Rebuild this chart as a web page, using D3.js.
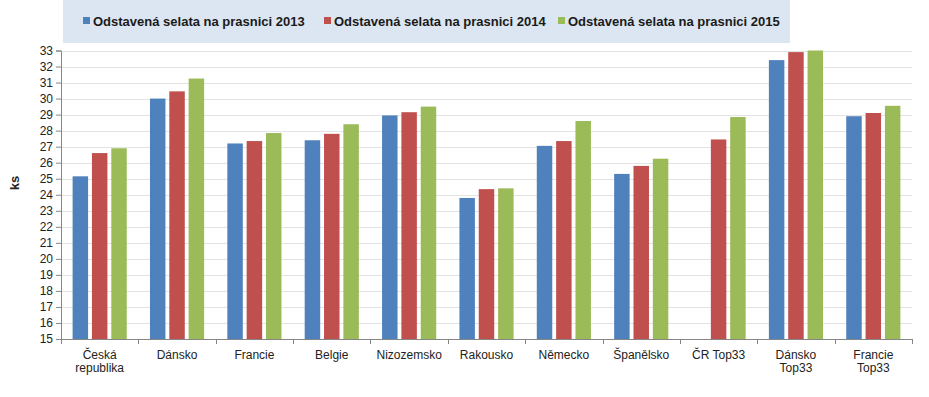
<!DOCTYPE html>
<html>
<head>
<meta charset="utf-8">
<script src="https://cdn.jsdelivr.net/npm/d3@7"></script>
<style>
  body { margin: 0; background: #fff; }
  svg { display: block; font-family: Arial, "Liberation Sans", sans-serif; }
</style>
</head>
<body>
<svg width="929" height="397"></svg>
<script>
const categories = [
  ['Česká', 'republika'], ['Dánsko'], ['Francie'], ['Belgie'], ['Nizozemsko'],
  ['Rakousko'], ['Německo'], ['Španělsko'], ['ČR Top33'], ['Dánsko', 'Top33'], ['Francie', 'Top33']
];
const seriesNames = ['Odstavená selata na prasnici 2013', 'Odstavená selata na prasnici 2014', 'Odstavená selata na prasnici 2015'];
const values2013 = [25.15, 30.0, 27.2, 27.4, 28.95, 23.8, 27.05, 25.3, null, 32.4, 28.9];
const values2014 = [26.6, 30.45, 27.35, 27.8, 29.15, 24.35, 27.35, 25.8, 27.45, 32.9, 29.1];
const values2015 = [26.9, 31.25, 27.85, 28.4, 29.5, 24.4, 28.6, 26.25, 28.85, 33.0, 29.55];
const yTicks = d3.range(15, 34);
const colors = ['#4f81bd', '#c0504d', '#9bbb59'];

const svg = d3.select('svg');
const plotL = 61, plotR = 912, plotT = 50.5, plotB = 339;

const x = d3.scaleBand().domain(d3.range(categories.length)).range([plotL, plotR]).padding(0);
const xs = d3.scaleBand().domain([0, 1, 2]).range([0, x.bandwidth()]).paddingInner(0.2).paddingOuter(0.6);
const y = d3.scaleLinear().domain([15, 33]).range([plotB, plotT]);

// legend box
svg.append('rect').attr('x', 63).attr('y', 0).attr('width', 727).attr('height', 43).attr('fill', '#dce6f2');
const legendX = [83, 324, 558];
seriesNames.forEach((name, i) => {
  const g = svg.append('g').attr('transform', `translate(${legendX[i]},0)`);
  g.append('rect').attr('x', 0).attr('y', 17).attr('width', 7).attr('height', 7).attr('fill', colors[i]);
  g.append('text').attr('x', 10).attr('y', 25.5).attr('font-size', 13).attr('font-weight', 'bold')
    .attr('fill', '#1a1a1a').text(name);
});

// grid
svg.append('g').selectAll('line').data(yTicks).enter().append('line')
  .attr('x1', plotL).attr('x2', plotR).attr('y1', d => Math.round(y(d)) + 0.5).attr('y2', d => Math.round(y(d)) + 0.5)
  .attr('stroke', '#e3e3e3');

// bars
const series = [values2013, values2014, values2015];
series.forEach((vals, s) => {
  svg.append('g').selectAll('rect').data(vals.map((v, i) => ({ v, i })).filter(d => d.v != null))
    .enter().append('rect')
    .attr('x', d => x(d.i) + xs(s))
    .attr('width', xs.bandwidth())
    .attr('y', d => y(d.v))
    .attr('height', d => y(15) - y(d.v))
    .attr('fill', colors[s]);
});

// y axis
const yAxis = svg.append('g').attr('transform', `translate(${plotL},0)`)
  .call(d3.axisLeft(y).tickValues(yTicks).tickSize(5).tickPadding(3).tickFormat(d3.format('d')));
yAxis.select('.domain').attr('stroke', '#868686');
yAxis.selectAll('.tick line').attr('stroke', '#868686');
yAxis.selectAll('text').attr('font-size', 12).attr('fill', '#222').attr('font-family', 'Arial, "Liberation Sans", sans-serif');

// x axis
const xAxis = svg.append('g').attr('transform', `translate(0,${plotB})`);
xAxis.append('line').attr('x1', plotL).attr('x2', plotR).attr('y1', 0.5).attr('y2', 0.5).attr('stroke', '#868686');
xAxis.selectAll('.tk').data(d3.range(categories.length + 1)).enter().append('line')
  .attr('x1', d => Math.round(plotL + d * x.step()) + 0.5).attr('x2', d => Math.round(plotL + d * x.step()) + 0.5)
  .attr('y1', 0).attr('y2', 5).attr('stroke', '#868686');
xAxis.selectAll('text').data(categories).enter().append('text')
  .attr('text-anchor', 'middle').attr('font-size', 12).attr('fill', '#222')
  .attr('transform', (d, i) => `translate(${x(i) + x.bandwidth() / 2},0)`)
  .selectAll('tspan').data(d => d).enter().append('tspan')
  .attr('x', 0).attr('y', (d, j) => 19.5 + j * 13.5).text(d => d);

// y label
svg.append('text').attr('transform', 'translate(19,183) rotate(-90)').attr('text-anchor', 'middle')
  .attr('font-size', 13).attr('font-weight', 'bold').attr('fill', '#222').text('ks');
</script>
</body>
</html>
